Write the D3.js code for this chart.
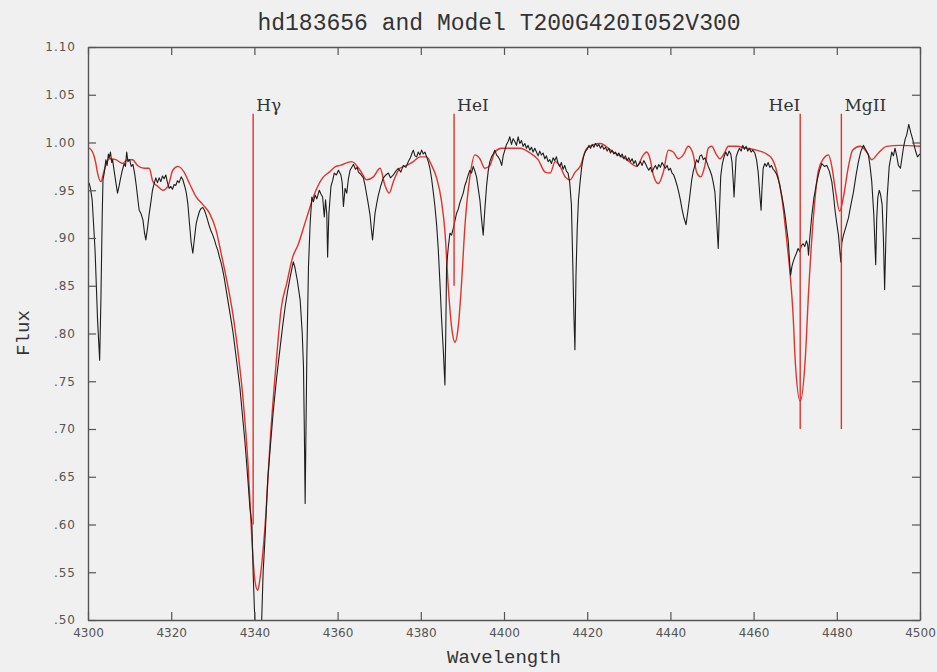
<!DOCTYPE html>
<html>
<head>
<meta charset="utf-8">
<script src="https://cdn.jsdelivr.net/npm/d3@7"></script>
<style>
  html, body { margin: 0; padding: 0; background: #f0f0f0; }
  svg { display: block; }
</style>
</head>
<body>
<div id="chart"></div>
<script>
// observed spectrum hd183656, [wavelength, flux]
const observed = [
  [4300.0,0.959],[4300.3,0.957],[4300.6,0.952],[4301.0,0.940],[4301.7,0.887],[4302.3,0.814],[4302.8,0.772],[4303.1,0.835],[4303.4,0.919],[4303.6,0.961],
  [4303.9,0.968],[4304.3,0.982],[4304.6,0.976],[4304.9,0.988],[4305.1,0.984],[4305.4,0.990],[4305.7,0.979],[4305.9,0.982],[4306.3,0.970],[4306.7,0.958],
  [4307.1,0.947],[4307.5,0.955],[4307.8,0.962],[4308.2,0.970],[4308.7,0.978],[4309.0,0.975],[4309.3,0.990],[4309.6,0.980],[4310.0,0.982],[4310.4,0.975],
  [4310.8,0.977],[4311.2,0.968],[4311.6,0.955],[4312.0,0.940],[4312.3,0.929],[4312.7,0.926],[4313.2,0.919],[4313.6,0.905],[4313.9,0.898],[4314.3,0.910],
  [4314.7,0.925],[4315.1,0.937],[4315.5,0.950],[4315.9,0.957],[4316.3,0.963],[4316.7,0.958],[4317.1,0.963],[4317.5,0.959],[4317.9,0.965],[4318.3,0.962],
  [4318.7,0.966],[4319.1,0.958],[4319.5,0.952],[4319.9,0.954],[4320.3,0.951],[4320.7,0.956],[4321.1,0.955],[4321.5,0.960],[4321.9,0.958],[4322.4,0.964],
  [4322.8,0.961],[4323.2,0.955],[4323.6,0.948],[4324.0,0.936],[4324.4,0.915],[4324.8,0.895],[4325.2,0.884],[4325.6,0.900],[4326.0,0.915],[4326.4,0.922],
  [4326.8,0.928],[4327.2,0.931],[4327.6,0.932],[4328.0,0.929],[4328.4,0.924],[4328.8,0.918],[4329.2,0.912],[4329.6,0.907],[4330.0,0.903],[4330.4,0.898],
  [4330.8,0.892],[4331.2,0.887],[4331.6,0.880],[4332.0,0.874],[4332.4,0.866],[4332.8,0.857],[4333.2,0.846],[4333.8,0.830],[4334.4,0.814],[4334.9,0.800],
  [4335.7,0.772],[4336.5,0.744],[4337.1,0.716],[4337.7,0.688],[4338.1,0.666],[4338.5,0.643],[4338.9,0.619],[4339.4,0.600],[4339.7,0.549],[4340.1,0.500],
  [4340.5,0.470],[4341.4,0.470],[4341.75,0.500],[4342.1,0.550],[4342.6,0.590],[4343.2,0.647],[4343.9,0.685],[4344.5,0.717],[4345.3,0.752],[4346.2,0.786],
  [4346.8,0.808],[4347.4,0.828],[4348.0,0.845],[4348.6,0.859],[4349.0,0.868],[4349.35,0.875],[4349.7,0.870],[4350.3,0.856],[4351.0,0.835],[4351.5,0.800],
  [4351.8,0.765],[4352.0,0.700],[4352.2,0.622],[4352.4,0.700],[4352.6,0.775],[4353.0,0.870],[4353.4,0.915],[4353.8,0.943],[4354.2,0.938],[4354.6,0.945],
  [4355.0,0.941],[4355.6,0.950],[4356.0,0.946],[4356.4,0.943],[4356.8,0.922],[4357.1,0.940],[4357.4,0.925],[4357.6,0.880],[4357.9,0.925],[4358.4,0.954],
  [4358.8,0.960],[4359.2,0.968],[4359.7,0.966],[4360.2,0.971],[4360.8,0.966],[4361.1,0.958],[4361.4,0.933],[4361.8,0.952],[4362.2,0.947],[4362.6,0.962],
  [4363.0,0.971],[4363.4,0.974],[4363.8,0.977],[4364.3,0.972],[4364.7,0.974],[4365.0,0.969],[4365.5,0.967],[4366.2,0.963],[4366.6,0.955],[4367.0,0.945],
  [4367.4,0.935],[4367.8,0.924],[4368.1,0.910],[4368.4,0.898],[4368.7,0.912],[4369.0,0.926],[4369.4,0.936],[4369.8,0.945],[4370.4,0.955],[4371.0,0.963],
  [4371.6,0.966],[4372.2,0.968],[4372.7,0.963],[4373.4,0.966],[4374.0,0.970],[4374.6,0.973],[4375.2,0.969],[4375.8,0.976],[4376.4,0.974],[4377.0,0.980],
  [4377.5,0.984],[4377.9,0.989],[4378.2,0.992],[4378.6,0.986],[4379.0,0.985],[4379.4,0.990],[4379.8,0.987],[4380.2,0.992],[4380.6,0.988],[4381.0,0.990],
  [4381.4,0.985],[4381.8,0.980],[4382.2,0.973],[4382.6,0.962],[4383.0,0.948],[4383.4,0.933],[4383.8,0.914],[4384.2,0.888],[4384.6,0.853],[4385.0,0.815],
  [4385.4,0.783],[4385.8,0.746],[4386.0,0.800],[4386.2,0.870],[4386.6,0.890],[4387.0,0.905],[4387.4,0.903],[4387.8,0.910],[4388.2,0.918],[4388.6,0.926],
  [4389.0,0.930],[4389.4,0.937],[4389.8,0.942],[4390.2,0.947],[4390.6,0.955],[4391.0,0.960],[4391.4,0.966],[4391.8,0.971],[4392.2,0.968],[4392.6,0.975],
  [4393.0,0.970],[4393.4,0.964],[4393.8,0.952],[4394.2,0.940],[4394.6,0.920],[4395.0,0.903],[4395.4,0.930],[4395.8,0.954],[4396.2,0.970],[4396.6,0.980],
  [4397.0,0.985],[4397.4,0.988],[4397.8,0.992],[4398.2,0.987],[4398.6,0.985],[4399.0,0.982],[4399.45,0.976],[4399.8,0.986],[4400.2,0.992],[4400.6,0.998],
  [4401.0,1.001],[4401.4,1.006],[4401.8,0.998],[4402.2,1.004],[4402.6,1.001],[4403.0,0.997],[4403.4,1.006],[4403.8,0.999],[4404.2,1.002],[4404.6,0.996],
  [4405.0,0.999],[4405.4,0.994],[4405.8,0.997],[4406.2,0.992],[4406.6,0.995],[4407.0,0.990],[4407.4,0.994],[4407.8,0.990],[4408.2,0.986],[4408.6,0.991],
  [4409.0,0.987],[4409.4,0.989],[4409.8,0.983],[4410.2,0.986],[4410.6,0.980],[4411.0,0.982],[4411.4,0.978],[4411.8,0.984],[4412.2,0.981],[4412.6,0.985],
  [4413.0,0.978],[4413.4,0.975],[4413.8,0.979],[4414.2,0.972],[4414.6,0.976],[4415.0,0.970],[4415.4,0.968],[4415.8,0.958],[4416.2,0.935],[4416.5,0.880],
  [4416.8,0.820],[4417.05,0.783],[4417.3,0.860],[4417.6,0.910],[4417.9,0.940],[4418.3,0.959],[4418.7,0.975],[4419.1,0.985],[4419.5,0.990],[4420.0,0.993],
  [4420.4,0.997],[4420.8,0.994],[4421.2,0.998],[4421.6,0.995],[4422.0,0.999],[4422.4,0.996],[4422.8,0.998],[4423.2,0.994],[4423.6,0.997],[4424.0,0.993],
  [4424.4,0.995],[4424.8,0.991],[4425.2,0.994],[4425.6,0.989],[4426.0,0.992],[4426.4,0.988],[4426.8,0.990],[4427.2,0.986],[4427.6,0.989],[4428.0,0.985],
  [4428.4,0.988],[4428.8,0.983],[4429.2,0.986],[4429.6,0.981],[4430.0,0.984],[4430.4,0.980],[4430.8,0.983],[4431.2,0.978],[4431.6,0.981],[4432.0,0.975],
  [4432.4,0.977],[4432.8,0.980],[4433.2,0.976],[4433.6,0.981],[4434.0,0.978],[4434.4,0.974],[4434.8,0.971],[4435.2,0.974],[4435.6,0.969],[4436.0,0.973],
  [4436.4,0.976],[4436.8,0.972],[4437.2,0.977],[4437.6,0.974],[4438.0,0.979],[4438.4,0.976],[4438.8,0.973],[4439.2,0.976],[4439.6,0.971],[4440.0,0.973],
  [4440.4,0.968],[4440.8,0.966],[4441.2,0.961],[4441.6,0.955],[4442.0,0.948],[4442.4,0.940],[4442.8,0.930],[4443.2,0.922],[4443.75,0.914],[4444.2,0.928],
  [4444.7,0.945],[4445.1,0.960],[4445.5,0.970],[4445.9,0.976],[4446.3,0.982],[4446.7,0.979],[4447.1,0.986],[4447.5,0.987],[4447.9,0.982],[4448.3,0.984],
  [4448.7,0.980],[4449.1,0.975],[4449.5,0.971],[4449.9,0.966],[4450.3,0.958],[4450.7,0.948],[4451.1,0.920],[4451.5,0.889],[4451.8,0.930],[4452.1,0.965],
  [4452.5,0.978],[4452.9,0.985],[4453.3,0.990],[4453.7,0.986],[4454.1,0.991],[4454.5,0.988],[4454.8,0.980],[4455.1,0.960],[4455.3,0.943],[4455.5,0.960],
  [4455.8,0.985],[4456.2,0.990],[4456.6,0.994],[4457.0,0.991],[4457.4,0.997],[4457.8,0.993],[4458.2,0.996],[4458.6,0.991],[4459.0,0.994],[4459.4,0.990],
  [4459.8,0.992],[4460.3,0.989],[4460.7,0.982],[4461.1,0.969],[4461.5,0.945],[4461.8,0.929],[4462.0,0.950],[4462.3,0.973],[4462.7,0.978],[4463.1,0.975],
  [4463.5,0.979],[4463.9,0.974],[4464.3,0.976],[4464.7,0.972],[4465.1,0.970],[4465.5,0.967],[4465.9,0.962],[4466.3,0.955],[4466.75,0.945],[4467.2,0.934],
  [4467.55,0.924],[4468.0,0.908],[4468.35,0.896],[4468.7,0.872],[4468.9,0.861],[4469.2,0.870],[4469.5,0.875],[4469.9,0.880],[4470.3,0.884],[4470.7,0.889],
  [4471.1,0.886],[4471.5,0.892],[4471.9,0.894],[4472.3,0.891],[4472.7,0.897],[4473.0,0.893],[4473.2,0.882],[4473.5,0.900],[4474.0,0.924],[4474.5,0.942],
  [4475.2,0.959],[4475.8,0.970],[4476.4,0.978],[4477.0,0.975],[4477.6,0.976],[4478.2,0.970],[4478.8,0.959],[4479.2,0.945],[4479.6,0.928],[4480.0,0.915],
  [4480.4,0.903],[4480.7,0.888],[4480.95,0.875],[4481.2,0.895],[4481.6,0.903],[4482.2,0.912],[4482.8,0.921],[4483.4,0.935],[4484.0,0.948],[4484.6,0.965],
  [4485.2,0.980],[4485.8,0.991],[4486.4,0.997],[4486.9,0.993],[4487.6,0.987],[4488.0,0.975],[4488.4,0.959],[4488.9,0.924],[4489.35,0.872],[4489.6,0.920],
  [4489.85,0.942],[4490.2,0.950],[4490.5,0.946],[4490.9,0.935],[4491.2,0.900],[4491.5,0.846],[4491.8,0.900],[4492.1,0.942],[4492.6,0.975],[4493.2,0.990],
  [4493.6,0.986],[4494.0,0.994],[4494.4,0.986],[4494.8,0.976],[4495.3,0.973],[4495.7,0.985],[4496.0,0.994],[4496.4,1.003],[4496.8,1.008],[4497.3,1.019],
  [4497.8,1.010],[4498.2,1.004],[4498.6,0.997],[4499.0,0.990],[4499.4,0.985],[4500.0,0.988]
];

// model T200G420I052V300, [wavelength, flux]
const model = [
  [4300.0,0.995],[4301.1,0.990],[4301.8,0.980],[4302.3,0.968],[4303.1,0.959],[4303.9,0.971],[4305.1,0.983],[4306.7,0.982],[4308.3,0.978],[4309.5,0.982],
  [4310.7,0.982],[4311.9,0.976],[4313.5,0.973],[4314.7,0.973],[4315.6,0.959],[4316.8,0.954],[4318.0,0.950],[4319.2,0.954],[4320.4,0.971],[4321.6,0.975],
  [4323.1,0.969],[4324.4,0.957],[4326.0,0.943],[4327.6,0.935],[4329.2,0.926],[4330.8,0.908],[4332.0,0.884],[4333.2,0.859],[4334.8,0.821],[4335.7,0.793],
  [4337.3,0.730],[4338.5,0.661],[4339.4,0.584],[4340.1,0.542],[4340.8,0.531],[4341.3,0.542],[4342.6,0.601],[4343.8,0.688],[4345.4,0.778],[4346.4,0.825],
  [4347.8,0.853],[4349.2,0.880],[4350.5,0.893],[4352.4,0.919],[4354.8,0.950],[4356.4,0.963],[4358.0,0.969],[4359.6,0.975],[4360.6,0.976],[4363.4,0.980],
  [4365.4,0.971],[4367.0,0.961],[4368.6,0.964],[4370.2,0.973],[4371.4,0.955],[4372.4,0.947],[4373.4,0.959],[4375.0,0.973],[4376.6,0.976],[4378.2,0.980],
  [4379.8,0.985],[4381.4,0.985],[4382.6,0.976],[4383.8,0.963],[4385.0,0.938],[4385.8,0.907],[4386.6,0.849],[4387.4,0.807],[4388.2,0.791],[4389.0,0.807],
  [4389.8,0.853],[4390.6,0.912],[4391.8,0.964],[4393.0,0.987],[4394.2,0.983],[4395.4,0.973],[4396.6,0.976],[4397.8,0.990],[4399.4,0.994],[4401.4,0.994],
  [4403.8,0.994],[4406.3,0.989],[4408.2,0.982],[4409.9,0.969],[4411.1,0.968],[4412.3,0.980],[4413.5,0.975],[4414.7,0.964],[4415.9,0.961],[4417.1,0.969],
  [4418.3,0.975],[4419.9,0.994],[4423.1,0.999],[4426.3,0.990],[4429.5,0.982],[4431.9,0.975],[4433.5,0.987],[4434.3,0.990],[4435.1,0.983],[4435.9,0.966],
  [4437.1,0.957],[4438.3,0.969],[4439.5,0.992],[4440.7,0.990],[4441.9,0.983],[4443.1,0.987],[4444.3,0.996],[4445.5,0.987],[4446.3,0.969],[4447.3,0.964],
  [4448.3,0.976],[4449.1,0.994],[4449.9,0.996],[4451.1,0.987],[4451.9,0.983],[4453.1,0.990],[4453.9,0.996],[4455.9,0.996],[4458.3,0.994],[4460.7,0.992],
  [4462.7,0.989],[4464.4,0.983],[4465.6,0.969],[4466.8,0.942],[4468.0,0.896],[4468.8,0.861],[4469.5,0.819],[4470.0,0.772],[4471.2,0.729],[4472.4,0.772],
  [4473.2,0.842],[4474.4,0.923],[4475.6,0.971],[4476.8,0.983],[4478.0,0.987],[4478.8,0.975],[4479.6,0.952],[4480.7,0.928],[4481.6,0.943],[4482.8,0.975],
  [4483.8,0.992],[4485.6,0.996],[4487.2,0.990],[4488.4,0.982],[4490.0,0.989],[4492.0,0.996],[4495.2,0.997],[4500.0,0.996]
];

// line identifications
const lineNames = ['H\u03b3', 'HeI', 'HeI', 'MgII'];
const lineWave = [4339.7, 4388.0, 4471.2, 4481.1];
const lineTop = [1.03, 1.03, 1.03, 1.03];
const lineBottom = [0.60, 0.85, 0.70, 0.70];
const lineAnchor = ['start', 'start', 'end', 'start'];

const xTicks = [4300, 4320, 4340, 4360, 4380, 4400, 4420, 4440, 4460, 4480, 4500];
const yTicks = [0.50, 0.55, 0.60, 0.65, 0.70, 0.75, 0.80, 0.85, 0.90, 0.95, 1.00, 1.05, 1.10];

const width = 937;
const height = 672;
const margin = { top: 47, right: 17, bottom: 52, left: 88 };

const svg = d3.select('#chart').append('svg')
  .attr('width', width)
  .attr('height', height);

svg.append('rect')
  .attr('width', width)
  .attr('height', height)
  .attr('fill', '#f0f0f0');

const x = d3.scaleLinear().domain([4300, 4500]).range([margin.left, width - margin.right]);
const y = d3.scaleLinear().domain([0.5, 1.1]).range([height - margin.bottom, margin.top]);

const fmtY = d => (d >= 1 ? d.toFixed(2) : d.toFixed(2).slice(1));

svg.append('clipPath').attr('id', 'plot-clip')
  .append('rect')
  .attr('x', x.range()[0])
  .attr('y', y.range()[1])
  .attr('width', x.range()[1] - x.range()[0])
  .attr('height', y.range()[0] - y.range()[1]);

const line = d3.line().x(d => x(d[0])).y(d => y(d[1]));

// red model first, observed on top
const gSpec = svg.append('g').attr('clip-path', 'url(#plot-clip)');

gSpec.append('path')
  .datum(model)
  .attr('fill', 'none')
  .attr('stroke', '#e2322b')
  .attr('stroke-width', 1.4)
  .attr('d', line.curve(d3.curveMonotoneX));

gSpec.append('path')
  .datum(observed)
  .attr('fill', 'none')
  .attr('stroke', '#1e1e1e')
  .attr('stroke-width', 1.1)
  .attr('stroke-linejoin', 'round')
  .attr('d', line.curve(d3.curveLinear));

// identification markers
const gLines = svg.append('g');
lineWave.forEach((w, i) => {
  gLines.append('line')
    .attr('x1', x(w)).attr('x2', x(w))
    .attr('y1', y(lineTop[i])).attr('y2', y(lineBottom[i]))
    .attr('stroke', '#e2322b')
    .attr('stroke-width', 1.4);
  gLines.append('text')
    .attr('x', x(w) + (lineAnchor[i] === 'start' ? 3 : 0))
    .attr('y', y(lineTop[i]) - 3)
    .attr('text-anchor', lineAnchor[i])
    .style('font-family', '"DejaVu Serif", serif')
    .style('font-size', '17px')
    .attr('fill', '#333')
    .text(lineNames[i]);
});

// axes with inward ticks on all four sides
const styleAxis = g => {
  g.select('.domain').attr('stroke', '#555').attr('stroke-width', 1.4);
  g.selectAll('.tick line').attr('stroke', '#555').attr('stroke-width', 1.2);
  g.selectAll('.tick text')
    .attr('fill', '#555')
    .style('font-family', '"DejaVu Sans", sans-serif')
    .style('font-size', '12px');
};

svg.append('g')
  .attr('transform', `translate(0,${y.range()[0]})`)
  .call(d3.axisBottom(x).tickValues(xTicks).tickFormat(d3.format('d')).tickSize(-8).tickSizeOuter(0).tickPadding(8))
  .call(styleAxis);

svg.append('g')
  .attr('transform', `translate(0,${y.range()[1]})`)
  .call(d3.axisTop(x).tickValues(xTicks).tickFormat('').tickSize(-8).tickSizeOuter(0))
  .call(styleAxis);

svg.append('g')
  .attr('transform', `translate(${x.range()[0]},0)`)
  .call(d3.axisLeft(y).tickValues(yTicks).tickFormat(fmtY).tickSize(-8).tickSizeOuter(0).tickPadding(12))
  .call(styleAxis)
  .selectAll('.tick text').style('letter-spacing', '1px');

svg.append('g')
  .attr('transform', `translate(${x.range()[1]},0)`)
  .call(d3.axisRight(y).tickValues(yTicks).tickFormat('').tickSize(-8).tickSizeOuter(0))
  .call(styleAxis);

// titles
const mono = '"Liberation Mono", "Courier New", monospace';

svg.append('text')
  .attr('x', 499)
  .attr('y', 30)
  .attr('text-anchor', 'middle')
  .style('font-family', mono)
  .style('font-size', '23px')
  .attr('fill', '#333')
  .text('hd183656 and Model T200G420I052V300');

svg.append('text')
  .attr('x', 504)
  .attr('y', 663)
  .attr('text-anchor', 'middle')
  .style('font-family', mono)
  .style('font-size', '19px')
  .attr('fill', '#333')
  .text('Wavelength');

svg.append('text')
  .attr('transform', 'translate(29,333) rotate(-90)')
  .attr('text-anchor', 'middle')
  .style('font-family', mono)
  .style('font-size', '19px')
  .attr('fill', '#333')
  .text('Flux');
</script>
</body>
</html>
